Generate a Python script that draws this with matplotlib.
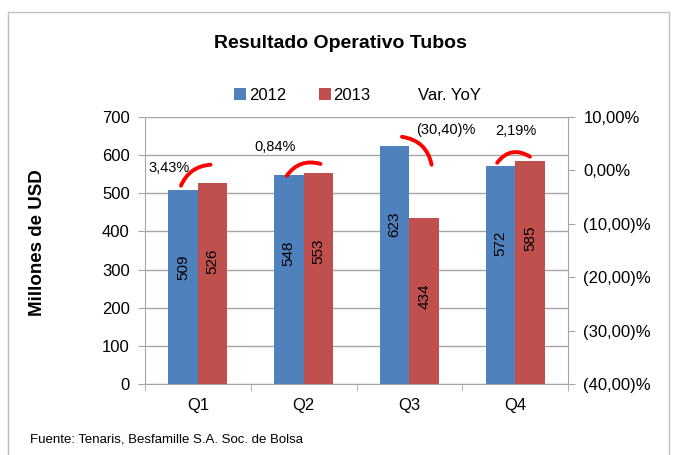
import matplotlib.pyplot as plt
import numpy as np
from matplotlib.patches import Rectangle

# data
quarters = ['Q1', 'Q2', 'Q3', 'Q4']
v2012 = [509, 548, 623, 572]
v2013 = [526, 553, 434, 585]
var_yoy = [0.0343, 0.0084, -0.3040, 0.0219]
yoy_labels = ['3,43%', '0,84%', '(30,40)%', '2,19%']

# hand placed decorations (arcs between the bars + yoy text), in data units
arc_start = [(-0.16, 520), (-0.16, 546), (-0.07, 648), (-0.17, 580)]
arc_end = [(0.12, 575), (0.16, 577), (0.21, 575), (0.14, 596)]
arc_rad = [-0.3, -0.35, -0.35, -0.45]
label_pos = [(-0.27, 567), (-0.27, 622), (0.34, 667), (0.01, 664)]

BLUE = '#4F81BD'
RED = '#C0504D'
GRID = '#a6a6a6'

plt.rcParams['font.family'] = ['Liberation Sans', 'DejaVu Sans']


def pct_fmt(v, pos=None):
    s = '{:.2f}'.format(abs(v) * 100).replace('.', ',')
    return '({})%'.format(s) if v < -1e-9 else '{}%'.format(s)


fig = plt.figure(figsize=(6.75, 4.55), dpi=100)
ax = fig.add_axes([145 / 675, 1 - 384 / 455, 423 / 675, 267 / 455])
ax2 = ax.twinx()

x = np.arange(len(quarters))
width = 0.28
b1 = ax.bar(x - width / 2, v2012, width, color=BLUE, label='2012', zorder=3)
b2 = ax.bar(x + width / 2, v2013, width, color=RED, label='2013', zorder=3)

# values inside the bars, rotated
for rects in (b1, b2):
    for r in rects:
        h = r.get_height()
        ax.annotate(str(int(h)), xy=(r.get_x() + r.get_width() / 2, h),
                    xytext=(0, -56), textcoords='offset points',
                    ha='center', va='center', rotation=90, fontsize=11, zorder=4)

ax.set_ylim(0, 700)
ax.set_yticks(range(0, 701, 100))
ax.set_xlim(-0.5, len(quarters) - 0.5)
ax.set_xticks(x)
ax.set_xticklabels(quarters)
ax.set_xticks(np.arange(-0.5, len(quarters), 1), minor=True)
ax.tick_params(axis='x', which='major', length=0, labelsize=12, pad=10)
ax.tick_params(axis='x', which='minor', length=5, color=GRID)
ax.tick_params(axis='y', length=5, color=GRID, labelsize=12, pad=6)
ax.grid(axis='y', color=GRID, lw=1, zorder=0)
ax.set_ylabel('Millones de USD', fontsize=13.5, fontweight='bold')
ax.yaxis.set_label_coords(-(145 - 46) / 423, 0.53)

# secondary axis with the YoY series (series itself has no visible marker)
ax2.plot(x, var_yoy, linestyle='none', label='Var. YoY')
ax2.set_ylim(-0.4, 0.1)
ax2.set_yticks(np.linspace(-0.4, 0.1, 6))
ax2.yaxis.set_major_formatter(plt.FuncFormatter(pct_fmt))
ax2.tick_params(axis='y', length=5, color=GRID, labelsize=12, pad=6)

for a in (ax, ax2):
    a.spines['top'].set_visible(False)
    for s in ('left', 'right', 'bottom'):
        a.spines[s].set_color(GRID)
ax.spines['right'].set_visible(False)
ax2.spines['left'].set_visible(False)
ax2.spines['bottom'].set_visible(False)

# red arcs and yoy labels
for i in range(len(quarters)):
    sx, sy = arc_start[i]
    ex, ey = arc_end[i]
    ax.annotate('', xy=(i + ex, ey), xytext=(i + sx, sy),
                arrowprops=dict(arrowstyle='-', color='red', lw=2.8,
                                shrinkA=0, shrinkB=0,
                                connectionstyle='arc3,rad={}'.format(arc_rad[i])),
                zorder=5)
    lx, ly = label_pos[i]
    ax.text(i + lx, ly, yoy_labels[i], ha='center', va='center', fontsize=10.5, zorder=5)

# legend
h1, l1 = ax.get_legend_handles_labels()
h2, l2 = ax2.get_legend_handles_labels()
fig.legend(h1 + h2, l1 + l2, loc='center', bbox_to_anchor=(0.53, 1 - 95 / 455),
           ncol=3, frameon=False, fontsize=12, handlelength=0.7, handleheight=0.7,
           handletextpad=0.15, columnspacing=2.0)

fig.text(0.505, 1 - 43 / 455, 'Resultado Operativo Tubos', ha='center', va='center',
         fontsize=14, fontweight='bold')
fig.text(30 / 675, 1 - 440 / 455, 'Fuente: Tenaris, Besfamille S.A. Soc. de Bolsa',
         ha='left', va='center', fontsize=9.5)

fig.patches.append(Rectangle((8 / 675, -0.05), 661 / 675, 1.05 - 12 / 455,
                             transform=fig.transFigure, fill=False,
                             edgecolor='#bfbfbf', lw=1))

fig.savefig('out.png', dpi=100)
